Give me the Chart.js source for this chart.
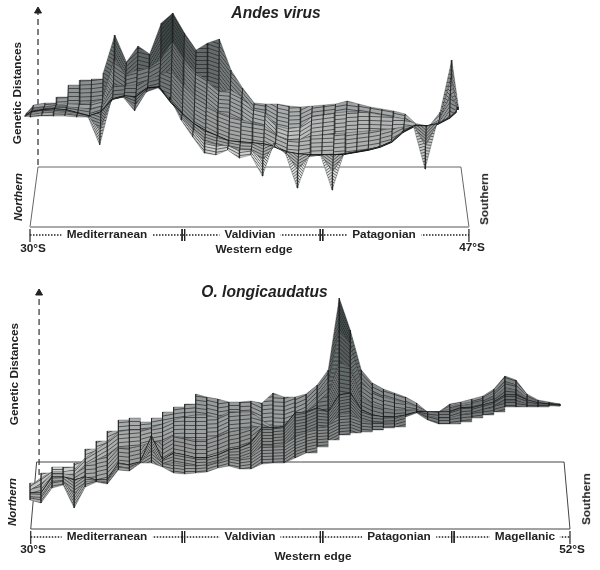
<!DOCTYPE html>
<html><head><meta charset="utf-8">
<script src="https://cdn.jsdelivr.net/npm/chart.js@4"></script>
<style>
html,body{margin:0;padding:0;background:#fff}
#wrap{position:relative;width:600px;height:570px;overflow:hidden;font-family:"Liberation Sans",Arial,sans-serif;color:#222}
canvas{position:absolute;left:0}
.t{position:absolute;white-space:nowrap;font-weight:bold;font-size:11.8px;transform:translate(-50%,-50%);line-height:1}
.bg{background:#fff;padding:1px 5px}
.v{transform:translate(-50%,-50%) rotate(-90deg)}
.i{font-style:italic;font-size:11.4px}
.h{font-size:15.6px;font-style:italic}
</style></head><body><div id="wrap"><canvas id="c1" width="600" height="285" style="top:0"></canvas><canvas id="c2" width="600" height="285" style="top:285px"></canvas></div>
<script>
// Andes virus: latitude columns and genetic-distance profiles, front row to back row
const andesLat=[29.77,30,30.45,30.9,31.35,31.8,32.25,32.7,33.15,33.6,34.05,34.5,34.95,35.4,35.85,36.3,36.75,37.2,37.65,38.1,38.55,39,39.45,39.9,40.35,40.8,41.25,41.7,42.15,42.6,43.05,43.5,43.95,44.4,44.85,45.3,45.75,46.2,46.46];
const andesRow0=[111,110,111,111,111,110,110,82,127,130,116,135,139,130,107,90,74,72,77,69,72,51,84,73,39,70,72,37,73,75,77,80,85,95,101,58,103,109,115];
const andesRow1=[111,112,114,115,114,112,110,97,128,130,122,136,140,127,110,97,85,82,81,77,77,67,81,74,57,71,72,55,73,75,77,80,85,95,101,81,103,109,115];
const andesRow2=[111,115,117,118,117,114,111,115,128,131,130,139,140,125,113,103,96,91,86,85,84,83,80,75,73,72,72,72,73,75,77,80,85,95,101,101,103,109,115];
const andesRow3=[113,117,119,120,120,119,118,121,142,141,142,147,152,157,142,129,122,115,111,107,104,101,92,87,87,91,92,93,94,95,96,97,98,100,102,101,105,133,120];
const andesRow4=[114,119,120,122,123,123,124,127,167,152,157,159,167,185,167,154,147,135,137,130,117,114,101,98,100,110,112,114,115,115,114,112,110,108,103,101,107,149,117];
const andesRow5=[115,122,124,130,142,147,148,154,192,165,181,173,204,214,194,177,184,188,157,139,124,123,123,121,120,121,122,123,126,123,120,118,116,113,103,100,115,167,120];
const andesRegions=["Mediterranean","Valdivian","Patagonian"];
const andesBreaks=[35.94,41.29];
const andesEnds=["30°S","47°S"];
// O. longicaudatus
const oLat=[30,30.45,30.9,31.35,31.8,32.25,32.7,33.15,33.6,34.05,34.5,34.95,35.4,35.85,36.3,36.75,37.2,37.65,38.1,38.55,39,39.45,39.9,40.35,40.8,41.25,41.7,42.15,42.6,43.05,43.5,43.95,44.4,44.85,45.3,45.75,46.2,46.65,47.1,47.55,48,48.45,48.9,49.35,49.8,50.25,50.7,51.15,51.6];
const oRow0=[29,26,41,44,21,42,47,45,59,58,66,66,62,56,55,56,57,61,63,60,60,65,66,66,71,76,82,89,94,96,97,99,101,102,112,116,109,105,105,107,111,114,117,122,122,122,122,123,123];
const oRow1=[32,31,47,48,35,47,48,47,62,61,66,79,65,66,64,63,64,67,71,70,73,83,83,84,93,96,101,103,114,116,108,106,106,107,113,117,113,111,111,114,116,119,122,128,128,125,124,124,123];
const oRow2=[36,36,52,52,49,52,49,49,66,64,67,93,69,76,74,71,71,74,79,81,86,101,101,102,116,117,121,117,134,136,119,114,112,112,114,117,117,117,117,121,121,124,127,134,134,129,126,125,124];
const oRow3=[39,45,55,55,54,64,69,74,81,81,83,87,87,93,91,89,89,93,97,99,101,103,101,102,113,117,127,134,167,161,131,125,121,119,119,119,117,117,120,123,125,127,132,141,139,131,127,125,124];
const oRow4=[43,51,57,57,59,71,79,87,97,99,99,101,105,109,112,114,114,111,117,117,117,109,101,104,112,119,131,144,199,184,147,137,132,129,126,122,117,117,123,125,127,130,136,147,144,133,128,126,125];
const oRow5=[46,56,62,62,66,80,88,98,109,111,107,111,117,122,125,135,132,130,127,127,128,126,136,132,132,135,144,159,231,199,159,146,140,136,132,126,117,117,125,127,130,133,140,153,149,135,129,127,125];
const oRegions=["Mediterranean","Valdivian","Patagonian","Magellanic"];
const oBreaks=[36.25,41.88,47.23];
const oEnds=["30°S","52°S"];

const wrap=document.getElementById('wrap');
function label(txt,x,y,cls){const s=document.createElement('span');s.className='t '+(cls||'');s.textContent=txt;s.style.left=x+'px';s.style.top=y+'px';wrap.appendChild(s);}

const tile=(function(){const cache={};return function(col,step){const k=col+step;if(cache[k])return cache[k];
  const c=document.createElement('canvas');c.width=2;c.height=step;const g=c.getContext('2d');
  g.fillStyle=col;g.fillRect(0,0,2,step);g.fillStyle='rgba(25,28,28,.62)';g.fillRect(0,0,2,1);return cache[k]=c;};})();
const pctx=document.createElement('canvas').getContext('2d');

function shade(h,lo,hi,f){let t=(h-lo)/(hi-lo);t=Math.max(0,Math.min(1,t));t=Math.pow(t,1.3);
  const c=Math.round((235-t*185)*f);return 'rgb('+Math.round(c-t*8)+','+c+','+c+')';}

function lineDs(pts,color,width,dash,extra){return Object.assign({type:'scatter',data:pts,showLine:true,fill:false,borderColor:color,borderWidth:width,borderDash:dash||[],pointRadius:0,tension:0},extra||{});}
function within(i,ranges){return ranges.some(r=>i>=r[0]&&i<r[1]);}

function buildChart(id,cfg){
  const ds=[];
  ds.push(lineDs([{x:cfg.rect[1],y:0},{x:cfg.rect[0],y:cfg.rectH},{x:cfg.rect[3],y:cfg.rectH},{x:cfg.rect[2],y:0}],cfg.rectCol,1));
  ds.push(lineDs([{x:cfg.rect[1],y:0},{x:cfg.rect[2],y:0}],cfg.frontCol,cfg.frontW));
  ds.push(lineDs([{x:cfg.axisX,y:cfg.axisFrom},{x:cfg.axisX,y:cfg.axisTo}],cfg.axisCol,cfg.axisW,[6,4]));
  ds.push({type:'scatter',data:[{x:cfg.axisX,y:cfg.axisTo}],pointStyle:'triangle',pointRadius:4,backgroundColor:'#222',borderColor:'#222',showLine:false});
  const brkY=cfg.brkY;
  const stops=[cfg.rect[1],...cfg.breaks,cfg.rect[2]];
  ds.push(lineDs([{x:stops[0],y:brkY},{x:stops[stops.length-1],y:brkY}],'#222',1.5,[1.5,1.5]));
  [stops[0],stops[stops.length-1]].forEach(v=>ds.push(lineDs([{x:v,y:brkY+6},{x:v,y:brkY-7}],'#222',1.2)));
  cfg.breaks.forEach(v=>{[v-0.05,v+0.05].forEach(u=>ds.push(lineDs([{x:u,y:brkY+6},{x:u,y:brkY-6}],'#222',1)));});
  const rows=cfg.rows,lat=cfg.lat,top=rows.length-2;
  for(let r=top;r>=0;r--){
    const lo=rows[r],hi=rows[r+1],sl=cfg.shift[r],sh=cfg.shift[r+1];
    for(let i=0;i<lat.length-1;i++){
      const hiR=(r===top&&within(i,cfg.stairBack))?hi[i]:hi[i+1];
      const loR=(r===0&&within(i,cfg.stairFront))?lo[i]:lo[i+1];
      const a=[{x:lat[i]+sl,y:lo[i]},{x:lat[i+1]+sl,y:loR},{x:lat[i+1]+sh,y:hiR},{x:lat[i]+sh,y:hi[i]}];
      const mean=(lo[i]+loR+hi[i]+hiR)/4;
      let slope=-((loR-lo[i])+(hiR-hi[i]))/2/((lat[i+1]-lat[i])*cfg.pxDeg);
      slope=Math.max(-6,Math.min(6,slope));
      const p=pctx.createPattern(tile(shade(mean,cfg.lo,cfg.hi,cfg.band[r]),r<=1?3:4),'repeat');
      p.setTransform(new DOMMatrix([1,slope,0,1,0,0]));
      ds.push({type:'scatter',data:a.concat([a[0]]),showLine:true,tension:0,pointRadius:0,fill:'shape',backgroundColor:p,borderColor:'rgba(25,28,28,.5)',borderWidth:0.6});
      ds.push(lineDs([a[0],a[3]],'#1c1c1c',0.8));
      if(i===lat.length-2)ds.push(lineDs([a[1],a[2]],'#1c1c1c',0.8));
    }
    if(r===cfg.creaseRow){ds.push(lineDs(lat.map((v,i)=>({x:v+sl,y:lo[i]})),'#111',cfg.creaseW));}
  }
  ds.reverse();
  return new Chart(document.getElementById(id),{
    data:{datasets:ds},
    options:{responsive:false,animation:false,events:[],layout:{padding:0,autoPadding:false},
      plugins:{legend:{display:false},title:{display:false},tooltip:{enabled:false}},
      elements:{line:{borderJoinStyle:'miter'}},
      scales:{x:{type:'linear',display:false,min:cfg.xMin,max:cfg.xMax},y:{type:'linear',display:false,min:cfg.yMin,max:cfg.yMax}}}
  });
}

buildChart('c1',{lat:andesLat,rows:[andesRow0,andesRow1,andesRow2,andesRow3,andesRow4,andesRow5],
  shift:[0,0.02,0.05,0.08,0.11,0.135],pxDeg:25.82,lo:40,hi:205,creaseRow:2,creaseW:1.5,band:[1,.82,.88,1,1],
  stairBack:[[2,7]],stairFront:[],
  xMin:28.838,xMax:52.076,yMin:-58,yMax:227,
  rect:[30.31,30,47,46.69],rectH:60,rectCol:'#666',frontCol:'#aaa',frontW:2,
  axisX:30.31,axisFrom:62,axisTo:216,axisCol:'#555',axisW:1.5,brkY:-8,breaks:andesBreaks});
buildChart('c2',{lat:oLat,rows:[oRow0,oRow1,oRow2,oRow3,oRow4,oRow5],
  shift:[0,0,0,0,0,0],pxDeg:24.545,lo:10,hi:225,creaseRow:2,creaseW:1.1,band:[.76,.76,.8,.92,1],
  stairBack:[[0,15]],stairFront:[[25,34],[38,48]],
  xMin:28.778,xMax:53.223,yMin:-41,yMax:244,
  rect:[30.27,30.03,52,51.76],rectH:67,rectCol:'#444',frontCol:'#444',frontW:1,
  axisX:30.37,axisFrom:54,axisTo:236,axisCol:'#333',axisW:1.2,brkY:-8,breaks:oBreaks});

label("Andes virus",276,13,'h');
label("O. longicaudatus",264.5,292,'h');
label("Genetic Distances",18,92.5,'v');
label("Genetic Distances",15,374,'v');
label("Northern",19,197,'v i');
label("Northern",13,502,'v i');
label("Southern",485,199,'v');
label("Southern",587,498.5,'v');
[107,250,384].forEach((x,i)=>label(andesRegions[i],x,235,'bg'));
[107,250,399,525].forEach((x,i)=>label(oRegions[i],x,537,'bg'));
label(andesEnds[0],33,249);label(andesEnds[1],472,248);
label(oEnds[0],33,550);label(oEnds[1],572,550);
label("Western edge",254,250);label("Western edge",313,557);
</script></body></html>
